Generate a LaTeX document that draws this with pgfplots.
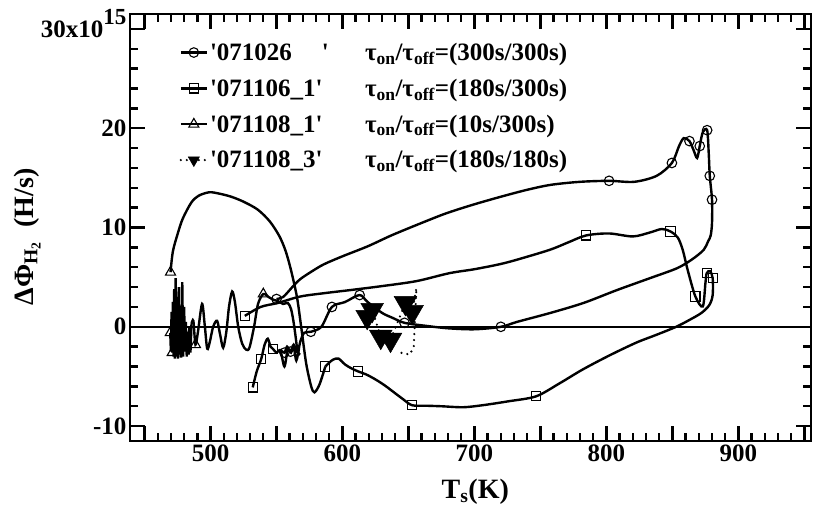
\documentclass[border=0pt]{standalone}
\usepackage{pgfplots}
\pgfplotsset{compat=1.18}
\usepackage{fontspec}
\setmainfont{Liberation Serif}[Ligatures=TeXOff]
\tikzset{curve/.style={line width=2.4pt, black}, mk/.style={fill=white, line width=1.1pt, solid}}
\begin{document}
\begin{tikzpicture}
\begin{axis}[
  at={(0pt,0pt)}, anchor=south west,
  scale only axis, width=681pt, height=427pt,
  xmin=439, xmax=955, ymin=-11.5, ymax=31.5,
  xtick={450,500,...,950},
  xticklabels={,500,,600,,700,,800,,900,},
  ytick={-10,0,10,20,30},
  yticklabels={-10,0,10,20,{30x10\smash{\raisebox{13pt}{\fontsize{23}{23}\selectfont 15}}\hspace{-6pt}}},
  minor x tick num=4, minor y tick num=4,
  tick align=inside,
  major tick length=15pt, minor tick length=8pt,
  every tick/.style={line width=2.4pt, black},
  axis line style={line width=2.8pt},
  tick label style={font=\fontsize{25}{30}\selectfont\bfseries},
  /pgf/number format/assume math mode=true,
  xlabel={T\textsubscript{s}(K)},
  ylabel={ΔΦ\textsubscript{H\textsubscript{2}}\ \ (H/s)},
  label style={font=\fontsize{28}{32}\selectfont\bfseries},
  xlabel style={at={(axis description cs:0.507,-0.12)}, anchor=center},
  ylabel style={at={(axis description cs:-0.151,0.478)}, anchor=center},
  legend cell align=left,
  legend style={at={(axis description cs:0.0726,0.937)}, anchor=north west,
    draw=none, fill=none, font=\fontsize{25}{30}\selectfont\bfseries,
    row sep=13pt, inner sep=0pt, nodes={inner sep=2pt}},
  legend image code/.code={\draw[mark repeat=2,mark phase=2,#1] plot coordinates {(0pt,0pt) (13pt,0pt) (26pt,0pt)};},
]
% zero line
\addplot[forget plot, line width=2.6pt, black] coordinates {(439,0) (955,0)};

% '071026 circles
\addplot[curve, smooth, mark=o, mark size=4.8pt, mark options={mk},
  mark indices={1,17,20,23,26,28,30,31,43,47,51,53,55,60,62},
  legend image post style={mark indices={2}}]
coordinates {
(550,2.8) (555,3.0) (562,4.0) (568,4.8) (577,5.6) (586,6.3) (600,7.1) (619,8.1)
(637,9.2) (657,10.3) (678,11.4) (699,12.3) (720,13.1) (740,13.8) (758,14.3) (780,14.6)
(802,14.7) (821,14.6) (838,15.2) (849.6,16.5) (855,18.2) (858.6,19.0) (862.9,18.7)
(866,17.8) (868.7,17.0) (870.7,18.2) (873,19.6) (876.3,19.8) (877.5,17.5) (878.3,15.2)
(880,12.8) (880,10.5) (879,9.2) (877,8.6) (873.7,7.75) (865,6.8) (853.5,5.9) (833,4.9)
(808,3.7) (782.6,2.4) (757.6,1.4) (732.4,0.5) (720,0.0) (700,-0.25) (680,-0.15) (663,0.1)
(647,0.4) (638,0.9) (630,1.4) (619,2.5) (613,3.2) (602,2.5) (592,2.0) (584,0.0)
(576,-0.5) (571,-0.6) (568,-1.5) (566,-2.6) (563,-1.8) (560.6,-2.5) (558,-2.0) (556,-2.6)
(553,-2.3)
};
\addlegendentry{\makebox[6.2em][l]{'071026\hspace{1.2em}'}τ\textsubscript{on}/τ\textsubscript{off}=(300s/300s)}

% '071106_1 squares
\addplot[curve, smooth, mark=square, mark size=4.6pt, mark options={mk},
  mark indices={1,15,20,24,27,29,40,46,52,58},
  legend image post style={mark indices={2}}]
coordinates {
(526,1.1) (538,2.0) (551,2.4) (568,3.05) (587,3.4) (606,3.7) (630,4.1) (656,4.6)
(681,5.4) (700,5.8) (719,6.3) (732,6.75) (757,7.75) (771,8.5) (784.6,9.2) (802,9.4)
(820,9.1) (833,9.5) (842,9.85) (848.5,9.6) (854,9.0) (857.8,7.75) (861.6,5.7) (867.4,3.05)
(873,2.05) (875,4.4) (876,5.4) (878.5,5.6) (880.5,4.9) (880.5,3.2) (878,2.2) (872,1.4)
(863,0.7) (852.8,0) (838,-0.8) (822.5,-1.6) (802,-2.9) (782,-4.3) (764.4,-5.7) (746.7,-7.0)
(725.8,-7.5) (706,-7.9) (691.4,-8.1) (675,-8.0) (663.9,-7.95) (652.8,-7.9) (646,-7.3) (640,-6.7)
(632,-5.9) (625,-5.3) (618,-4.8) (612,-4.5) (607,-4.2) (602,-3.8) (597,-3.2) (593,-3.3)
(590,-3.6) (587,-4.0)
};
\addlegendentry{\makebox[6.2em][l]{'071106\_1'}τ\textsubscript{on}/τ\textsubscript{off}=(180s/300s)}

% '071108_1 triangles (arc)
\addplot[curve, smooth, mark=triangle, mark size=5.8pt, mark options={mk},
  mark indices={1},
  legend image post style={mark indices={2}}]
coordinates {
(469.7,5.5) (471.5,7.6) (475.2,9.4) (479,10.9) (485.4,12.5) (491,13.2) (499.2,13.55) (507,13.4)
(515.7,13.1) (525,12.6) (535.8,11.8) (545,10.6) (552.3,9.1) (557,7.6) (561,5.7) (565.5,3.0)
(568.7,0) (572.5,-3.7) (576.3,-6.0) (578.8,-6.6) (582.6,-5.8) (587,-4.0)
};
\addlegendentry{\makebox[6.2em][l]{'071108\_1'}τ\textsubscript{on}/τ\textsubscript{off}=(10s/300s)}

% '071108_3 filled triangles
\addplot[line width=2.4pt, black, line cap=round, dash pattern=on 0pt off 6pt,
  mark=triangle*, mark size=13pt,
  mark options={solid, rotate=180, fill=black, line width=0.5pt},
  mark indices={1,2,3,4,5,6},
  legend image post style={mark indices={2}, mark size=6.5pt}]
coordinates {
(618.7,1.0) (622.5,1.7) (629,-1.0) (636.4,-1.3) (647.7,2.4) (652.8,1.5)
(656,3.9) (654.5,-0.5) (654,-2.0) (651,-2.8) (644,-2.6)
};
\addlegendentry{\makebox[6.2em][l]{'071108\_3'}τ\textsubscript{on}/τ\textsubscript{off}=(180s/180s)}

% triangle series: dense spikes
\addplot[forget plot, curve, sharp plot, mark=triangle, mark size=5.8pt,
  mark options={mk}, mark indices={1,4}]
coordinates {
(469.5,-0.6) (470,-2.5) (470.5,1.5) (471,-2.6) (471.5,2.5) (472,-3.0) (472.5,3.8) (473,-3.2)
(473.6,4.9) (474.2,-3.0) (474.8,3.0) (475.4,-3.2) (476,4.0) (476.6,-2.8) (477.2,1.5) (477.8,-3.1)
(478.6,4.5) (479.3,-3.0) (480,2.0) (480.7,-2.5) (481.3,0.5) (482,-3.0) (482.7,-0.5) (483.4,-2.8)
(484,0.0) (484.8,-2.6) (485.6,0.3)
};
% triangle series: waves
\addplot[forget plot, curve, smooth, mark=triangle, mark size=5.8pt,
  mark options={mk}, mark indices={3,23}]
coordinates {
(485.6,0.3) (487,0.6) (488.6,-1.8) (490.5,-0.5) (493.6,2.3) (495.6,0.2) (497.5,-2.2) (499.5,-1.5)
(502,0) (505,0.6) (507.3,-0.8) (509.6,-2.1) (512,-0.5) (514,2.0) (516.4,3.55) (518.5,2.5)
(521,0) (524,-1.7) (527,-2.3) (529.5,-2.1) (533,0) (536,2.3) (540,3.3) (544,3.0)
(548,2.7) (551,2.6) (555,2.3) (558.6,2.4) (561,1.8) (562.8,0.6) (564.5,-1.0) (566,-2.5) (568,-2.8)
};
% square series: short segment
\addplot[forget plot, curve, smooth, mark=square, mark size=4.6pt,
  mark options={mk}, mark indices={1,3,7}]
coordinates {
(532,-6.1) (535,-4.5) (538.4,-3.25) (541,-1.8) (543.4,-1.2) (545.5,-2.0) (547.5,-2.25) (550,-2.6)
(553,-2.4) (556,-4.0) (558.5,-2.3) (561,-2.6) (563,-2.0) (565,-3.4) (567,-2.2)
};
\end{axis}
\pgfresetboundingbox
\path[use as bounding box] (-130pt,-68pt) rectangle (683pt,441pt);
\end{tikzpicture}
\end{document}
